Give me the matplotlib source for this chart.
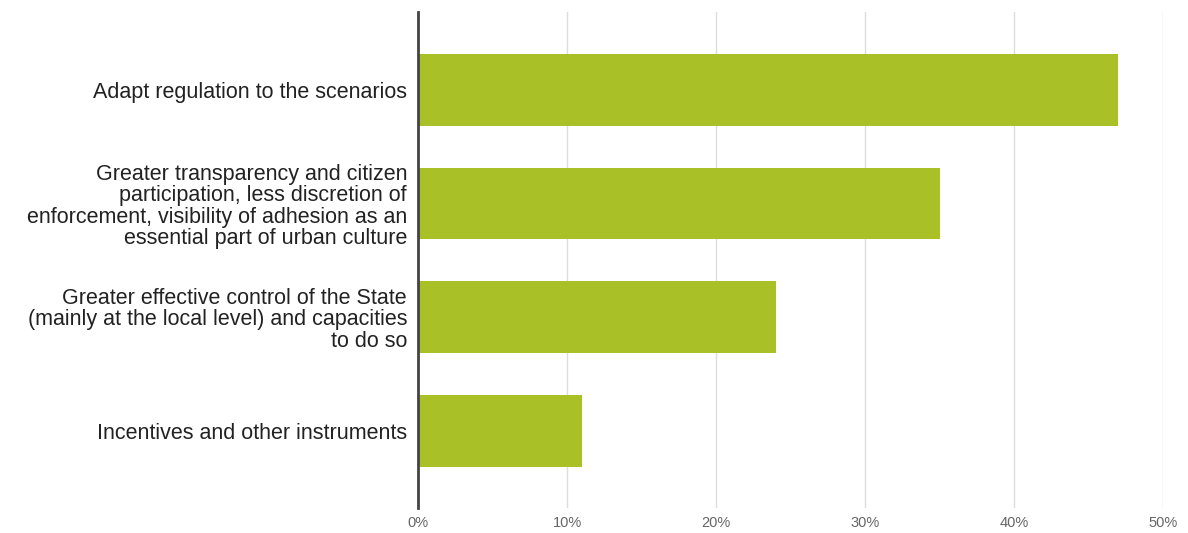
import matplotlib.pyplot as plt
import numpy as np

plt.rcParams["font.family"] = ["Liberation Sans", "DejaVu Sans"]

categories = [
    "Adapt regulation to the scenarios",
    "Greater transparency and citizen\nparticipation, less discretion of\n"
    "enforcement, visibility of adhesion as an\nessential part of urban culture",
    "Greater effective control of the State\n(mainly at the local level) and capacities\nto do so",
    "Incentives and other instruments",
]
values = [47, 35, 24, 11]
xticks = [0, 10, 20, 30, 40, 50]
xtick_labels = ["0%", "10%", "20%", "30%", "40%", "50%"]


def main():
    fig = plt.figure(figsize=(11.88, 5.33), dpi=100)
    ax = fig.add_axes([0.352, 0.047, 0.627, 0.931])

    y = np.arange(len(categories))
    ax.barh(y, values, height=0.63, color="#a9c126", zorder=3)

    ax.set_xlim(0, 50)
    ax.set_ylim(len(categories) - 0.32, -0.69)
    ax.set_xticks(xticks)
    ax.set_xticklabels(xtick_labels, fontsize=10.5, color="#666666")
    ax.set_yticks(y)
    ax.set_yticklabels(categories, fontsize=15.5, color="#222222",
                       linespacing=1.03)
    ax.tick_params(axis="both", length=0)
    ax.tick_params(axis="y", pad=8)
    ax.tick_params(axis="x", pad=6)

    ax.grid(axis="x", color="#dddddd", linewidth=1, zorder=0)
    for side in ["top", "right", "bottom"]:
        ax.spines[side].set_visible(False)
    ax.spines["left"].set_color("#444444")
    ax.spines["left"].set_linewidth(2)
    ax.spines["left"].set_zorder(4)

    fig.savefig("out.png", dpi=100)


if __name__ == "__main__":
    main()
